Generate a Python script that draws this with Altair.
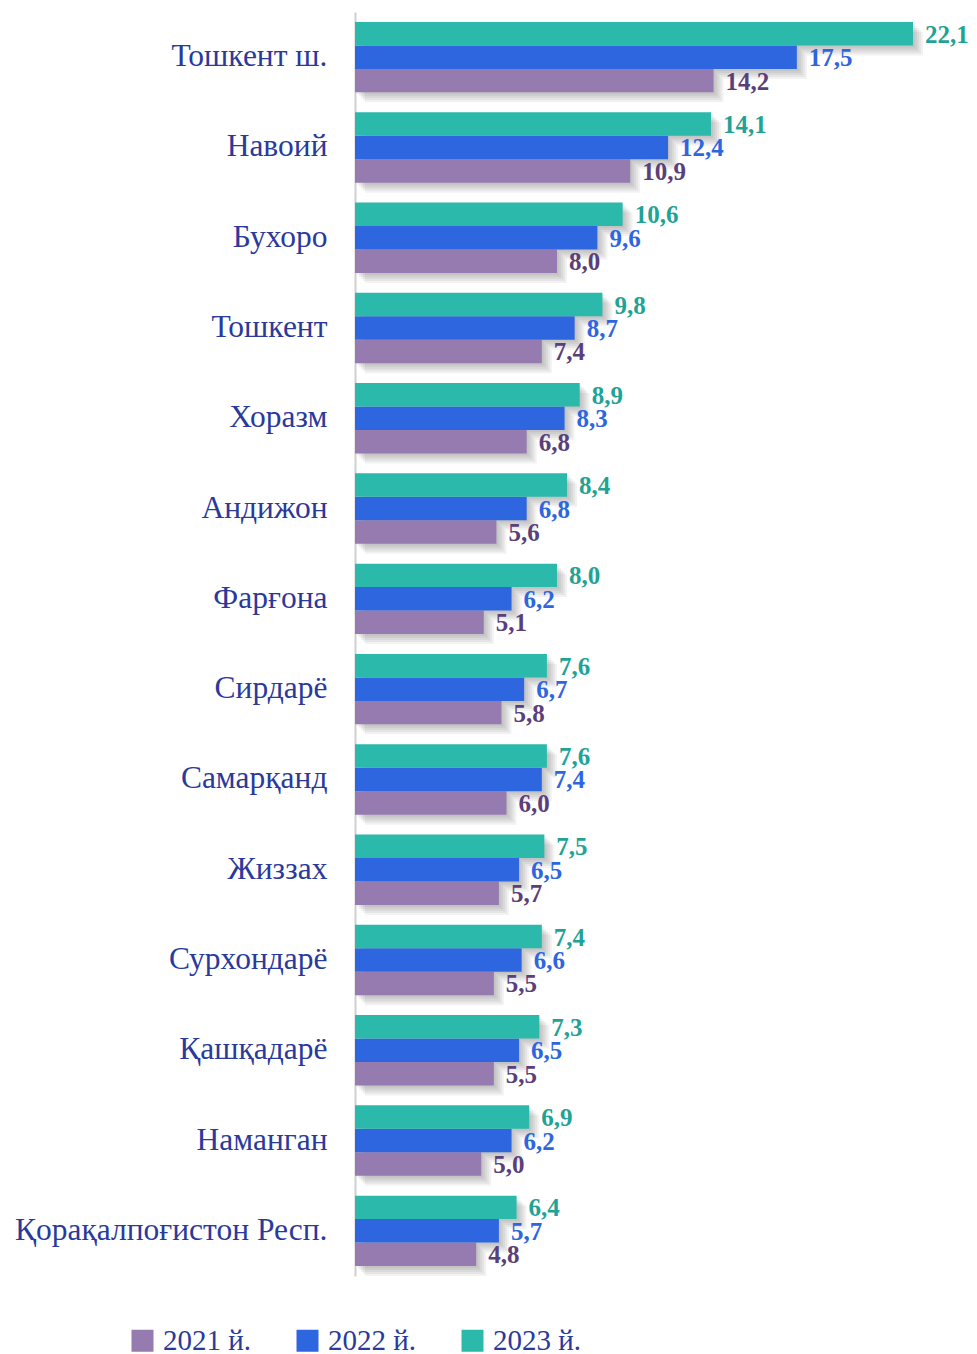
import altair as alt
import pandas as pd

regions = ["Тошкент ш.", "Навоий", "Бухоро", "Тошкент ", "Хоразм", "Андижон", "Фарғона",
           "Сирдарё", "Самарқанд", "Жиззах", "Сурхондарё", "Қашқадарё", "Наманган",
           "Қорақалпоғистон Респ."]
v2021 = [14.2, 10.9, 8.0, 7.4, 6.8, 5.6, 5.1, 5.8, 6.0, 5.7, 5.5, 5.5, 5.0, 4.8]
v2022 = [17.5, 12.4, 9.6, 8.7, 8.3, 6.8, 6.2, 6.7, 7.4, 6.5, 6.6, 6.5, 6.2, 5.7]
v2023 = [22.1, 14.1, 10.6, 9.8, 8.9, 8.4, 8.0, 7.6, 7.6, 7.5, 7.4, 7.3, 6.9, 6.4]
years = ["2021 й.", "2022 й.", "2023 й."]
bar_colors = ["#957bb0", "#2e66e0", "#2ab9ab"]
label_colors = ["#5a3f7a", "#2e66e0", "#1fa396"]

rows = []
for i, r in enumerate(regions):
    for y, vals in zip(years, [v2021, v2022, v2023]):
        rows.append({"region": r, "year": y, "value": vals[i],
                     "label": f"{vals[i]:.1f}".replace(".", ",")})
df = pd.DataFrame(rows)

SERIF = "Times New Roman, Liberation Serif, serif"
STEP = 1264 / 14
BAND = STEP * 0.78

y_enc = alt.Y("region:N", sort=regions,
              scale=alt.Scale(paddingInner=0.22, paddingOuter=0.11),
              axis=alt.Axis(title=None, ticks=False, labelPadding=28,
                            labelFont=SERIF, labelFontSize=31.5, labelLimit=500,
                            labelColor="#2a3a9c", domainColor="#d0d0d0",
                            domainWidth=2, minExtent=347, maxExtent=347))
yoff = alt.YOffset("year:N", sort=years[::-1],
                   scale=alt.Scale(domain=years[::-1], paddingInner=0, paddingOuter=0))
x_enc = alt.X("value:Q", scale=alt.Scale(domain=[0, 22.1], nice=False), axis=None)

base = alt.Chart(df)

shadows = []
for off in [2, 4, 6, 8, 10]:
    shadows.append(base.mark_bar(color="#444444", opacity=0.07, xOffset=off, x2Offset=off).encode(
        x=x_enc, y=alt.Y("region:N", sort=regions),
        yOffset=alt.YOffset("year:N", sort=years[::-1],
                            scale=alt.Scale(domain=years[::-1], range=[off, BAND + off],
                                            paddingInner=0, paddingOuter=0))))

bars = base.mark_bar().encode(
    x=x_enc, y=y_enc, yOffset=yoff,
    color=alt.Color("year:N", scale=alt.Scale(domain=years, range=bar_colors),
                    legend=alt.Legend(title=None, orient="none", direction="horizontal",
                                      legendX=-227, legendY=1314,
                                      symbolType="square", symbolSize=484,
                                      symbolStrokeWidth=0,
                                      labelFont=SERIF, labelFontSize=29,
                                      labelColor="#2a3a9c", labelLimit=300,
                                      columnPadding=41, labelOffset=6)),
)

texts = base.mark_text(align="left", baseline="middle", dx=12, dy=1,
                       font=SERIF, fontSize=25, fontWeight="bold").encode(
    x=x_enc, y=alt.Y("region:N", sort=regions), yOffset=yoff, text="label:N",
    color=alt.Color("year:N", scale=alt.Scale(domain=years, range=label_colors), legend=None),
)

main = alt.layer(bars, texts).resolve_scale(color="independent")

chart = alt.layer(*shadows, main).resolve_scale(
    color="independent", yOffset="independent").properties(
    width=558, height=1264, background="white",
    padding={"left": 0, "top": 4, "right": 0, "bottom": 0},
).configure_view(strokeWidth=0, stroke=None).configure_legend(labelFont=SERIF)

chart.save("out.html", embed_options={"renderer": "svg", "actions": False})
